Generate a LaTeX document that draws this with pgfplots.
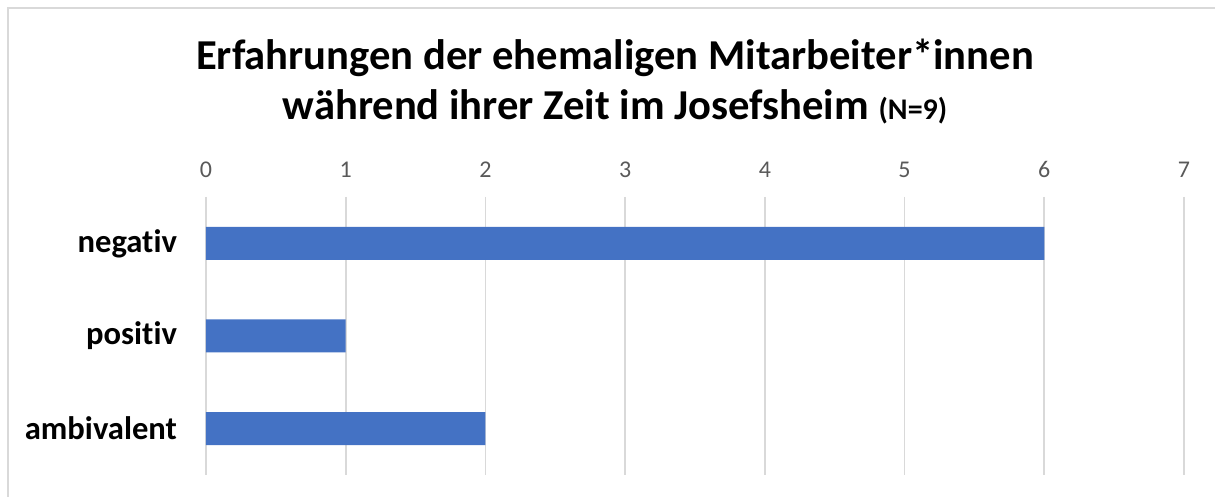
\documentclass[border=0pt]{standalone}
\usepackage{fontspec}
\setmainfont{Carlito}[Ligatures=NoCommon]
\usepackage{pgfplots}
\pgfplotsset{compat=1.18}
\definecolor{barblue}{HTML}{4472C4}
\definecolor{gridgray}{HTML}{D9D9D9}
\definecolor{ticktext}{HTML}{595959}
\begin{document}
\begin{tikzpicture}
\useasboundingbox (0,0) rectangle (607.5pt,248.5pt);
\draw[gridgray, line width=0.8pt] (4pt,-2pt) -- (4pt,244.5pt) -- (610pt,244.5pt);
\node[anchor=base, font=\fontsize{21.3pt}{25pt}\selectfont\bfseries] at (307.5pt,213.5pt) {Erfahrungen der ehemaligen Mitarbeiter*innen};
\node[anchor=base, font=\fontsize{21.3pt}{25pt}\selectfont\bfseries] at (307.5pt,188.5pt) {während ihrer Zeit im Josefsheim {\fontsize{15pt}{17pt}\selectfont (N=9)}};
\begin{axis}[
  at={(103pt,11pt)}, anchor=south west,
  scale only axis, width=489pt, height=139pt,
  xbar, bar width=16.5pt,
  xmin=0, xmax=7, xtick={0,1,...,7},
  ymin=-0.5, ymax=2.5, y dir=reverse,
  ytick={0,1,2}, yticklabels={negativ,positiv,ambivalent},
  xticklabel pos=top,
  axis line style={draw=none},
  major tick length=0pt,
  xmajorgrids, grid style={gridgray, line width=0.8pt},
  /pgf/number format/assume math mode=true,
  xticklabel style={font=\fontsize{12pt}{14pt}\selectfont, text=ticktext, yshift=6pt},
  yticklabel style={font=\fontsize{16.3pt}{19pt}\selectfont\bfseries, text=black, xshift=-11pt},
]
\addplot[fill=barblue, draw=none] coordinates {(6,0) (1,1) (2,2)};
\end{axis}
\end{tikzpicture}
\end{document}
